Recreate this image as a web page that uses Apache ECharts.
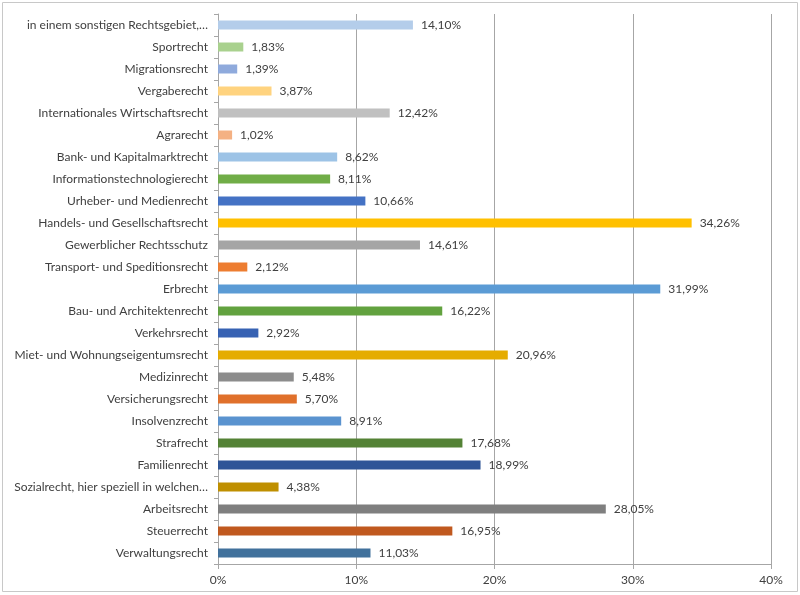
<!DOCTYPE html>
<html>
<head>
<meta charset="utf-8">
<script src="https://cdn.jsdelivr.net/npm/echarts@6/dist/echarts.min.js"></script>
<style>
  html, body { margin: 0; padding: 0; background: #fff; }
  #chart { width: 800px; height: 595px; }
</style>
</head>
<body>
<div id="chart"></div>
<script>
// bottom to top, as drawn
var categories = [
  "Verwaltungsrecht", "Steuerrecht", "Arbeitsrecht",
  "Sozialrecht, hier speziell in welchen…", "Familienrecht", "Strafrecht",
  "Insolvenzrecht", "Versicherungsrecht", "Medizinrecht",
  "Miet- und Wohnungseigentumsrecht", "Verkehrsrecht", "Bau- und Architektenrecht",
  "Erbrecht", "Transport- und Speditionsrecht", "Gewerblicher Rechtsschutz",
  "Handels- und Gesellschaftsrecht", "Urheber- und Medienrecht",
  "Informationstechnologierecht", "Bank- und Kapitalmarktrecht", "Agrarecht",
  "Internationales Wirtschaftsrecht", "Vergaberecht", "Migrationsrecht",
  "Sportrecht", "in einem sonstigen Rechtsgebiet,…"
];
var values = [
  11.03, 16.95, 28.05, 4.38, 18.99, 17.68, 8.91, 5.70, 5.48, 20.96,
  2.92, 16.22, 31.99, 2.12, 14.61, 34.26, 10.66, 8.11, 8.62, 1.02,
  12.42, 3.87, 1.39, 1.83, 14.10
];
var barColors = [
  "#41719c", "#c0591f", "#7f7f7f", "#bf8f00", "#2f5597", "#548235",
  "#5a93cf", "#e0702b", "#8c8c8c", "#e5ac00", "#3762b3", "#62a23f",
  "#5b9bd5", "#ed7d31", "#a5a5a5", "#ffc000", "#4472c4", "#70ad47",
  "#9dc3e6", "#f4b183", "#c0c0c0", "#ffd37f", "#8faadc", "#a9d18e",
  "#b4cdea"
];
var xTicks = [0, 10, 20, 30, 40];

var myChart = echarts.init(document.getElementById("chart"));

var option = {
  animation: false,
  textStyle: { fontFamily: "Lato, 'Noto Sans', sans-serif" },
  grid: { left: 218, right: 29, top: 14, bottom: 31 },
  graphic: [{
    type: "rect",
    shape: { x: 2.5, y: 2.5, width: 795, height: 589 },
    style: { fill: "none", stroke: "#c8c8c8", lineWidth: 1 }
  }],
  xAxis: {
    type: "value",
    min: xTicks[0],
    max: xTicks[xTicks.length - 1],
    interval: 10,
    axisLine: { show: true, lineStyle: { color: "#a6a6a6" } },
    axisTick: { show: true, length: 5, lineStyle: { color: "#a6a6a6" } },
    splitLine: { show: true, lineStyle: { color: "#a6a6a6" } },
    axisLabel: {
      color: "#404040", fontSize: 12, margin: 10,
      formatter: function (v) { return v + "%"; }
    }
  },
  yAxis: {
    type: "category",
    data: categories,
    axisLine: { show: true, lineStyle: { color: "#a6a6a6" } },
    axisTick: { show: true, length: 4, lineStyle: { color: "#a6a6a6" } },
    axisLabel: { color: "#404040", fontSize: 12, margin: 10 }
  },
  series: [{
    type: "bar",
    barWidth: 9,
    data: values.map(function (v, i) {
      return { value: v, itemStyle: { color: barColors[i] } };
    }),
    label: {
      show: true,
      position: "right",
      distance: 8,
      color: "#404040",
      fontSize: 12,
      formatter: function (p) {
        return p.value.toFixed(2).replace(".", ",") + "%";
      }
    }
  }]
};

myChart.setOption(option);
</script>
</body>
</html>
